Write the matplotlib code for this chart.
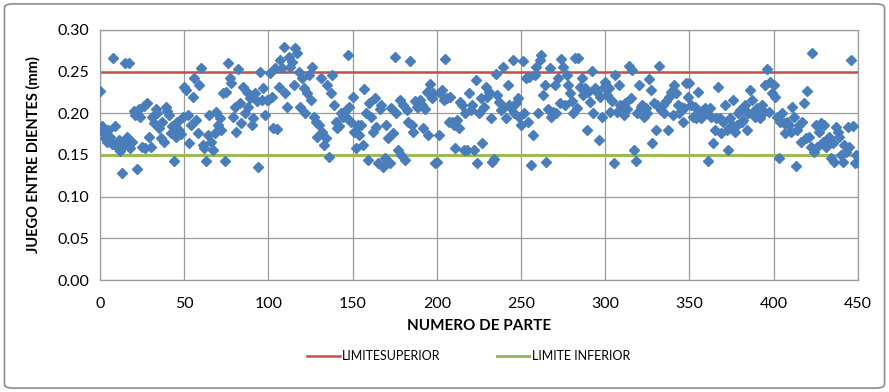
import numpy as np
import matplotlib.pyplot as plt
from matplotlib.patches import FancyBboxPatch

# juego entre dientes (mm) por numero de parte
juego = [
    # 0-49
    0.227, 0.185, 0.178, 0.170, 0.165, 0.180, 0.172, 0.163, 0.266, 0.185,
    0.160, 0.168, 0.155, 0.128, 0.162, 0.260, 0.172, 0.260, 0.158, 0.165,
    0.203, 0.198, 0.133, 0.205, 0.195, 0.160, 0.209, 0.158, 0.212, 0.172,
    0.160, 0.195, 0.188, 0.205, 0.200, 0.182, 0.170, 0.190, 0.165, 0.208,
    0.203, 0.198, 0.176, 0.185, 0.143, 0.172, 0.190, 0.180, 0.175, 0.195,
    # 50-99
    0.232, 0.228, 0.198, 0.164, 0.186, 0.220, 0.242, 0.192, 0.176, 0.234,
    0.254, 0.162, 0.158, 0.143, 0.174, 0.198, 0.166, 0.156, 0.176, 0.202,
    0.186, 0.194, 0.180, 0.224, 0.143, 0.226, 0.260, 0.242, 0.236, 0.196,
    0.208, 0.178, 0.253, 0.212, 0.188, 0.232, 0.200, 0.226, 0.208, 0.218,
    0.186, 0.194, 0.224, 0.215, 0.136, 0.249, 0.216, 0.230, 0.198, 0.216,
    # 100-149
    0.216, 0.248, 0.220, 0.182, 0.254, 0.181, 0.232, 0.264, 0.254, 0.280,
    0.224, 0.208, 0.268, 0.256, 0.262, 0.234, 0.278, 0.272, 0.250, 0.208,
    0.242, 0.230, 0.200, 0.224, 0.246, 0.216, 0.256, 0.195, 0.190, 0.172,
    0.186, 0.242, 0.178, 0.162, 0.170, 0.234, 0.148, 0.224, 0.246, 0.210,
    0.190, 0.182, 0.185, 0.200, 0.195, 0.202, 0.196, 0.270, 0.208, 0.190,
    # 150-199
    0.220, 0.178, 0.158, 0.186, 0.174, 0.186, 0.162, 0.229, 0.200, 0.144,
    0.212, 0.196, 0.178, 0.218, 0.184, 0.140, 0.205, 0.210, 0.136, 0.146,
    0.186, 0.170, 0.140, 0.206, 0.176, 0.267, 0.200, 0.156, 0.216, 0.150,
    0.210, 0.144, 0.204, 0.190, 0.263, 0.186, 0.178, 0.215, 0.208, 0.208,
    0.216, 0.210, 0.182, 0.205, 0.226, 0.174, 0.235, 0.218, 0.224, 0.140,
    # 200-249
    0.142, 0.174, 0.224, 0.228, 0.216, 0.265, 0.218, 0.190, 0.220, 0.190,
    0.186, 0.158, 0.192, 0.182, 0.214, 0.210, 0.156, 0.200, 0.156, 0.224,
    0.204, 0.210, 0.156, 0.240, 0.140, 0.200, 0.218, 0.164, 0.208, 0.232,
    0.220, 0.226, 0.194, 0.141, 0.145, 0.247, 0.222, 0.214, 0.204, 0.255,
    0.208, 0.194, 0.234, 0.210, 0.206, 0.264, 0.200, 0.212, 0.218, 0.196,
    # 250-299
    0.186, 0.263, 0.200, 0.242, 0.190, 0.244, 0.138, 0.174, 0.246, 0.256,
    0.200, 0.264, 0.270, 0.222, 0.234, 0.142, 0.205, 0.254, 0.196, 0.202,
    0.234, 0.200, 0.242, 0.212, 0.265, 0.256, 0.210, 0.246, 0.234, 0.224,
    0.215, 0.200, 0.266, 0.206, 0.266, 0.232, 0.242, 0.222, 0.230, 0.180,
    0.225, 0.214, 0.251, 0.200, 0.230, 0.226, 0.168, 0.220, 0.196, 0.232,
    # 300-349
    0.238, 0.222, 0.230, 0.202, 0.215, 0.140, 0.246, 0.202, 0.234, 0.210,
    0.204, 0.198, 0.212, 0.205, 0.257, 0.218, 0.252, 0.156, 0.143, 0.200,
    0.234, 0.208, 0.210, 0.196, 0.206, 0.200, 0.241, 0.228, 0.164, 0.212,
    0.180, 0.210, 0.257, 0.204, 0.210, 0.200, 0.215, 0.180, 0.220, 0.226,
    0.198, 0.234, 0.224, 0.210, 0.200, 0.208, 0.190, 0.206, 0.236, 0.220,
    # 350-399
    0.236, 0.210, 0.196, 0.208, 0.194, 0.226, 0.202, 0.194, 0.204, 0.206,
    0.200, 0.143, 0.206, 0.196, 0.164, 0.180, 0.194, 0.232, 0.194, 0.176,
    0.190, 0.210, 0.180, 0.156, 0.194, 0.186, 0.216, 0.178, 0.186, 0.200,
    0.204, 0.190, 0.192, 0.210, 0.180, 0.200, 0.228, 0.216, 0.202, 0.195,
    0.206, 0.198, 0.194, 0.210, 0.202, 0.234, 0.253, 0.202, 0.238, 0.224,
    # 400-450
    0.234, 0.220, 0.196, 0.146, 0.190, 0.200, 0.188, 0.176, 0.190, 0.186,
    0.178, 0.208, 0.196, 0.137, 0.180, 0.186, 0.165, 0.190, 0.212, 0.170,
    0.227, 0.172, 0.160, 0.272, 0.154, 0.186, 0.160, 0.178, 0.188, 0.166,
    0.186, 0.160, 0.168, 0.172, 0.146, 0.164, 0.142, 0.184, 0.178, 0.172,
    0.150, 0.142, 0.162, 0.154, 0.184, 0.160, 0.264, 0.185, 0.140, 0.150,
    0.142,
]
parte = np.arange(len(juego))

limite_superior = 0.25
limite_inferior = 0.15

plt.rcParams['font.family'] = ['Lato', 'DejaVu Sans']

fig = plt.figure(figsize=(8.89, 3.92), dpi=100)
ax = fig.add_axes([0.1125, 0.2857, 0.8525, 0.6378])

ax.plot(parte, [limite_superior] * len(parte), color='#C0504D', lw=1.8,
        label='LIMITESUPERIOR', zorder=2)
ax.plot(parte, [limite_inferior] * len(parte), color='#9BBB59', lw=2.2,
        label='LIMITE INFERIOR', zorder=2)
ax.plot(parte, juego, 'D', color='#4A7EBB', ms=5.4, mec='#4A7EBB', zorder=3)

ax.set_xlim(0, 450)
ax.set_ylim(0, 0.30)
ax.set_xticks(np.arange(0, 451, 50))
ax.set_yticks(np.arange(0, 0.301, 0.05))
ax.yaxis.set_major_formatter(plt.FormatStrFormatter('%.2f'))
ax.grid(True, color='#9A9A9A', lw=0.9)
ax.set_axisbelow(True)
for s in ax.spines.values():
    s.set_color('#9A9A9A')
    s.set_linewidth(0.9)
ax.tick_params(length=0, labelsize=11.5, colors='black')
ax.tick_params(axis='x', pad=12)
ax.tick_params(axis='y', pad=8)

ax.set_xlabel('NUMERO DE PARTE', fontsize=11, fontweight='bold', labelpad=6)
ax.set_ylabel('JUEGO ENTRE DIENTES (mm)', fontsize=10.5, fontweight='bold', labelpad=12)

fig.legend(loc='center', bbox_to_anchor=(0.527, 0.092), ncol=2, frameon=False,
           fontsize=9, handlelength=2.6, handletextpad=0.2, columnspacing=4.5)

border = FancyBboxPatch((0.005, 0.01), 0.99, 0.98, boxstyle='round,pad=0,rounding_size=0.01',
                        transform=fig.transFigure, fill=False, ec='#8C8C8C', lw=1.2)
fig.patches.append(border)

fig.savefig('out.png', dpi=100)
